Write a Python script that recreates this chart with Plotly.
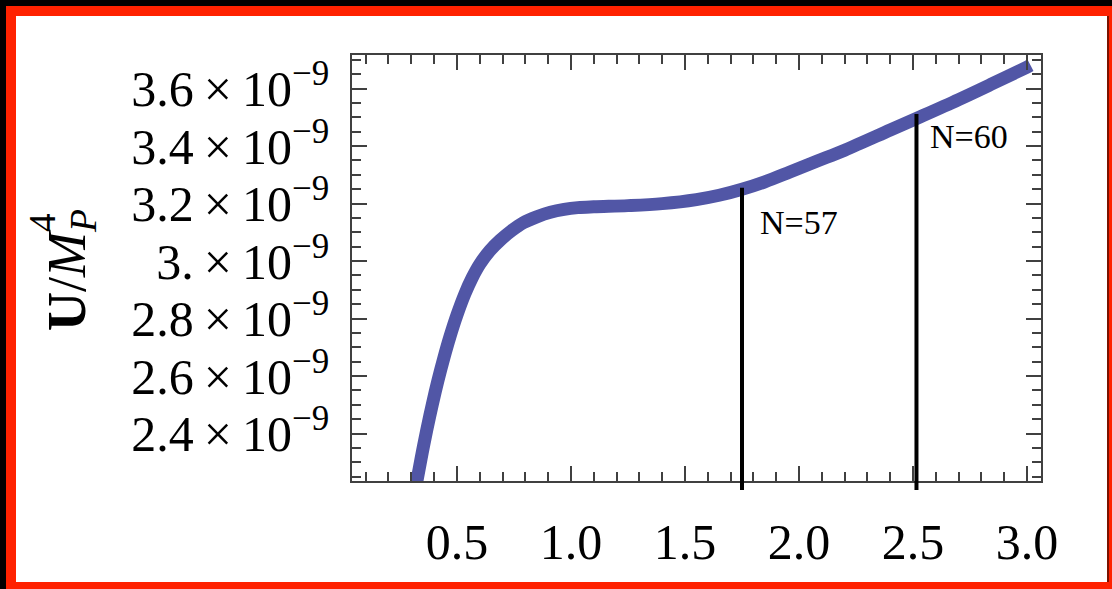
import plotly.graph_objects as go

# Potential U/M_P^4 versus field value
phi = [0.31, 0.329, 0.348, 0.368, 0.392, 0.417, 0.443, 0.469, 0.50, 0.535,
       0.567, 0.60, 0.645, 0.69, 0.74, 0.79, 0.85, 0.91, 0.97, 1.03, 1.10,
       1.25, 1.40, 1.55, 1.65, 1.75, 1.85, 1.96, 2.08, 2.20, 2.40, 2.52,
       2.70, 2.85, 3.00, 3.015]
u_vals = [2.17e-9, 2.254e-9, 2.334e-9, 2.413e-9, 2.501e-9, 2.585e-9, 2.664e-9,
          2.736e-9, 2.812e-9, 2.886e-9, 2.942e-9, 2.989e-9, 3.037e-9, 3.073e-9,
          3.106e-9, 3.133e-9, 3.154e-9, 3.170e-9, 3.180e-9, 3.186e-9, 3.189e-9,
          3.193e-9, 3.200e-9, 3.214e-9, 3.229e-9, 3.250e-9, 3.276e-9, 3.310e-9,
          3.348e-9, 3.386e-9, 3.456e-9, 3.498e-9, 3.562e-9, 3.618e-9, 3.675e-9,
          3.681e-9]

# e-fold markers
n_labels = ["N=57", "N=60"]
n_phi = [1.75, 2.515]
n_u = [3.255e-9, 3.512e-9]
n_label_pos = [(1.82, 3.136e-9), (2.566, 3.434e-9)]

# axis ticks
x_ticks = [0.5, 1.0, 1.5, 2.0, 2.5, 3.0]
x_ticktext = ["0.5", "1.0", "1.5", "2.0", "2.5", "3.0"]
y_ticks = [2.4e-9, 2.6e-9, 2.8e-9, 3.0e-9, 3.2e-9, 3.4e-9, 3.6e-9]
y_mant = ["2.4", "2.6", "2.8", "3.", "3.2", "3.4", "3.6"]
y_ticktext = [m + "\u2009×\u200910<sup>−9</sup>" for m in y_mant]

x_range = [0.04, 3.061]
y_range = [2.235e-9, 3.717e-9]

W, H = 1112, 589
L, R, T, B = 352, 71, 55, 108
PW, PH = W - L - R, H - T - B


def px(xp):
    return (xp - L) / PW


def py(yp):
    return (H - B - yp) / PH


def y_paper(v):
    return (v - y_range[0]) / (y_range[1] - y_range[0])


SERIF = "Liberation Serif, Times New Roman, serif"
AX = "#404040"

fig = go.Figure()
fig.add_trace(go.Scatter(
    x=phi, y=u_vals, mode="lines",
    line=dict(color="#5156a6", width=13, shape="spline", smoothing=1.0),
    hoverinfo="skip", showlegend=False,
))

shapes = []
# vertical marker lines, running from below the frame up to the curve
for xv, uv in zip(n_phi, n_u):
    shapes.append(dict(type="line", xref="x", yref="paper",
                       x0=xv, x1=xv, y0=py(490), y1=y_paper(uv),
                       line=dict(color="black", width=4), layer="above"))


def rect(x0, y0, x1, y1, color):
    return dict(type="rect", xref="paper", yref="paper",
                x0=px(x0), x1=px(x1), y0=py(y1), y1=py(y0),
                fillcolor=color, line=dict(width=0), layer="above")


# page border
shapes += [
    rect(0, 0, W, 6, "#000000"),
    rect(0, 0, 6, H, "#000000"),
    rect(6, 6, W, 16, "#ff2200"),
    rect(6, 6, 16, H, "#ff2200"),
    rect(6, 582, W, H, "#ff2200"),
    rect(1109, 6, W, H, "#ff2200"),
    rect(1107, 16, 1109, 582, "#7a1200"),
]

annotations = []
for lab, (lx, ly) in zip(n_labels, n_label_pos):
    annotations.append(dict(x=lx, y=ly, xref="x", yref="y", text=lab,
                            showarrow=False, xanchor="left", yanchor="middle",
                            font=dict(family=SERIF, size=34, color="black")))

# y-axis title U/M_P^4 (superscript 4 stacked over the subscript P)
annotations.append(dict(x=px(70), y=py(270), xref="paper", yref="paper",
                        text="<b>U</b>/<i>M</i><sub><i>P</i></sub>",
                        textangle=-90, showarrow=False,
                        xanchor="center", yanchor="middle",
                        font=dict(family=SERIF, size=54, color="black")))
annotations.append(dict(x=px(42), y=py(223), xref="paper", yref="paper",
                        text="4", textangle=-90, showarrow=False,
                        xanchor="center", yanchor="middle",
                        font=dict(family=SERIF, size=37, color="black")))

fig.update_layout(
    width=W, height=H,
    margin=dict(l=L, r=R, t=T, b=B, pad=0),
    paper_bgcolor="white", plot_bgcolor="white",
    shapes=shapes, annotations=annotations,
    showlegend=False,
)

fig.update_xaxes(
    range=x_range, tickmode="array", tickvals=x_ticks, ticktext=x_ticktext,
    ticks="inside", ticklen=15, tickwidth=1.5, tickcolor=AX,
    showline=True, linecolor=AX, linewidth=1.5, mirror="ticks",
    showgrid=False, zeroline=False,
    tickfont=dict(family=SERIF, size=50, color="black"),
    ticklabelstandoff=16,
    minor=dict(ticks="inside", ticklen=9, tickwidth=1.5, tickcolor=AX,
               tick0=0, dtick=0.1, showgrid=False),
)
fig.update_yaxes(
    range=y_range, tickmode="array", tickvals=y_ticks, ticktext=y_ticktext,
    ticks="inside", ticklen=15, tickwidth=1.5, tickcolor=AX,
    showline=True, linecolor=AX, linewidth=1.5, mirror="ticks",
    showgrid=False, zeroline=False,
    tickfont=dict(family=SERIF, size=50, color="black"),
    ticklabelstandoff=11,
    minor=dict(ticks="inside", ticklen=9, tickwidth=1.5, tickcolor=AX,
               tick0=0, dtick=0.05e-9, showgrid=False),
)

fig.write_html("out.html")
